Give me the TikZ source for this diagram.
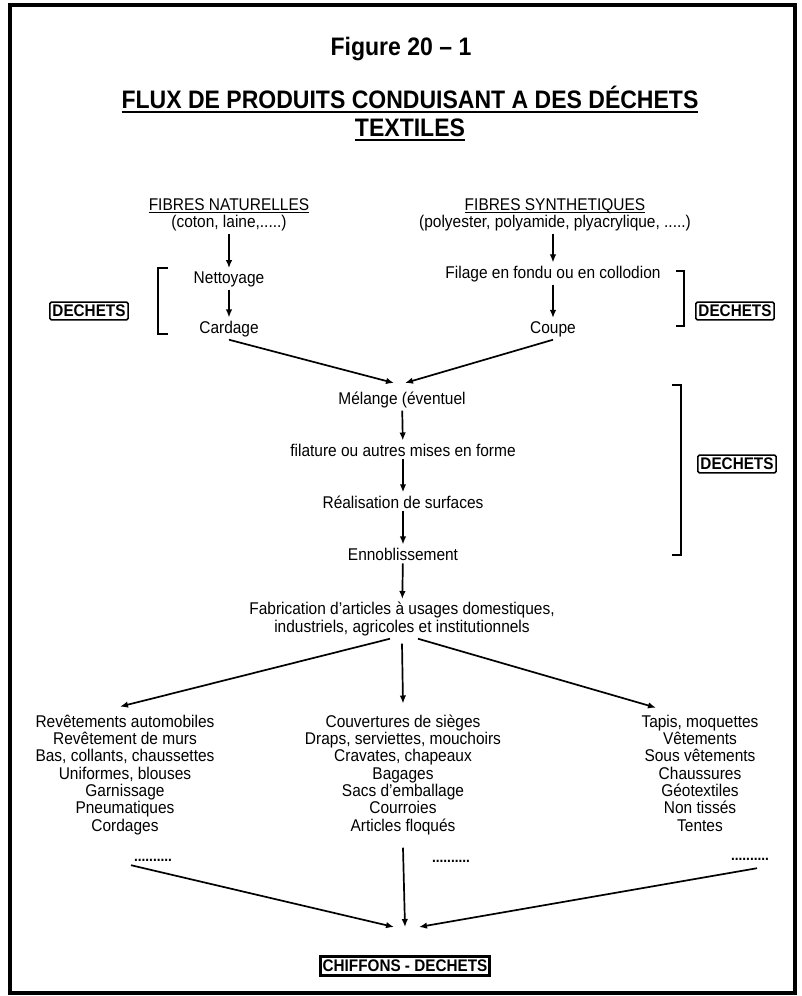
\documentclass[tikz,border=0pt]{standalone}
\usepackage{fontspec}
\setmainfont{Liberation Sans}
\newfontfamily\etroite[FakeStretch=0.91]{Liberation Sans}
\usetikzlibrary{arrows.meta}

% souligne : #1 profondeur, #2 epaisseur, #3 texte
\newcommand{\souligne}[3]{\setbox0=\hbox{#3}\rlap{\rule[-#1]{\wd0}{#2}}\box0}

\begin{document}
\begin{tikzpicture}[x=1pt, y=-1pt, >={Latex[length=8pt,width=6.5pt]},
    txt/.style={anchor=base, align=center, inner sep=3pt,
      font=\etroite\fontsize{17}{17.3}\selectfont},
    titre/.style={anchor=base, inner sep=2pt,
      font=\etroite\bfseries\fontsize{25.3}{28}\selectfont},
    dechets/.style={draw, line width=1.5pt, rounded corners=1.5pt, inner xsep=2.5pt, inner ysep=3pt,
      font=\etroite\bfseries\fontsize{16.8}{17}\selectfont},
    points/.style={anchor=base, inner sep=0pt, font=\etroite\bfseries\fontsize{15}{15}\selectfont},
    fleche/.style={->, line width=1.7pt},
    crochet/.style={line width=1.5pt}]
  \useasboundingbox (0,0) rectangle (802,996);
  \draw[line width=4pt] (10,5) rectangle (795,993);

  % titre
  \node[titre] (fig) at (401,55) {Figure 20 – 1};
  \node[titre] (flux) at (410,108) {\souligne{5pt}{2pt}{FLUX DE PRODUITS CONDUISANT A DES DÉCHETS}};
  \node[titre] (textiles) at (410,136) {\souligne{5pt}{2pt}{TEXTILES}};

  % fibres naturelles
  \node[txt] (natur) at (229,210.5) {\souligne{2.3pt}{1.2pt}{FIBRES NATURELLES}};
  \node[txt] (coton) at (229,227.5) {(coton, laine,.....)};
  \node[txt] (nettoy) at (229,283) {Nettoyage};
  \node[txt] (cardage) at (229,333) {Cardage};

  % fibres synthetiques
  \node[txt] (synth) at (555,210.5) {\souligne{2.3pt}{1.2pt}{FIBRES SYNTHETIQUES}};
  \node[txt] (poly) at (555,227.5) {(polyester, polyamide, plyacrylique, .....)};
  \node[txt] (filage) at (553,278) {Filage en fondu ou en collodion};
  \node[txt] (coupe) at (553,333) {Coupe};

  % chaine commune
  \node[txt] (melange) at (402,404) {Mélange (éventuel};
  \node[txt] (filature) at (403,456) {filature ou autres mises en forme};
  \node[txt] (surfaces) at (403,508) {Réalisation de surfaces};
  \node[txt] (ennobl) at (403,560) {Ennoblissement};
  \node[txt] (fabric) at (402,632) {Fabrication d’articles à usages domestiques,\\industriels, agricoles et institutionnels};

  % articles
  \node[txt] (gauche) at (125,831) {Revêtements automobiles\\Revêtement de murs\\Bas, collants, chaussettes\\Uniformes, blouses\\Garnissage\\Pneumatiques\\Cordages};
  \node[txt] (milieu) at (403,831) {Couvertures de sièges\\Draps, serviettes, mouchoirs\\Cravates, chapeaux\\Bagages\\Sacs d’emballage\\Courroies\\Articles floqués};
  \node[txt] (droite) at (700,831) {Tapis, moquettes\\Vêtements\\Sous vêtements\\Chaussures\\Géotextiles\\Non tissés\\Tentes};
  \node[points] (pts1) at (153,861) {..........};
  \node[points] (pts2) at (451,862) {..........};
  \node[points] (pts3) at (750,860) {..........};

  % dechets
  \node[dechets] (dech1) at (89,311) {DECHETS};
  \node[dechets] (dech2) at (735,311) {DECHETS};
  \node[dechets] (dech3) at (737,464) {DECHETS};
  \node[dechets, line width=3pt, rounded corners=0pt, inner ysep=3.5pt] (chiffons) at (405,966) {CHIFFONS - DECHETS};

  % crochets
  \draw[crochet] (168,268) -- (158,268) -- (158,334) -- (168,334);
  \draw[crochet] (676,271) -- (684,271) -- (684,326) -- (676,326);
  \draw[crochet] (672,385) -- (681,385) -- (681,555) -- (672,555);

  % points d'arrivee
  \coordinate (melin1) at (394,383);
  \coordinate (melin2) at (405,383);
  \coordinate (chin1) at (394,927);
  \coordinate (chin2) at (419,927);

  % fleches
  \draw[fleche] (coton) -- (nettoy);
  \draw[fleche] (nettoy) -- (cardage);
  \draw[fleche] (poly.south -| filage) -- (filage);
  \draw[fleche] (filage) -- (coupe);
  \draw[fleche] (cardage.south) -- (melin1);
  \draw[fleche] (coupe.south) -- (melin2);
  \draw[fleche] (melange) -- (filature);
  \draw[fleche] (filature) -- (surfaces);
  \draw[fleche] (surfaces) -- (ennobl);
  \draw[fleche] (ennobl) -- (fabric);
  \draw[fleche] ([xshift=-12pt]fabric.south) -- ([xshift=-5pt,yshift=5pt]gauche.north);
  \draw[fleche] ([yshift=-5pt]fabric.south) -- ([yshift=8pt]milieu.north);
  \draw[fleche] ([xshift=16pt]fabric.south) -- ([xshift=-44pt,yshift=4pt]droite.north);
  \draw[fleche] ([xshift=-22pt,yshift=-4pt]pts1.south) -- (chin1);
  \draw[fleche] ([yshift=-10pt]milieu.south) -- (chiffons.north |- chin1);
  \draw[fleche] ([xshift=7pt,yshift=-8pt]pts3.south) -- (chin2);
\end{tikzpicture}
\end{document}
